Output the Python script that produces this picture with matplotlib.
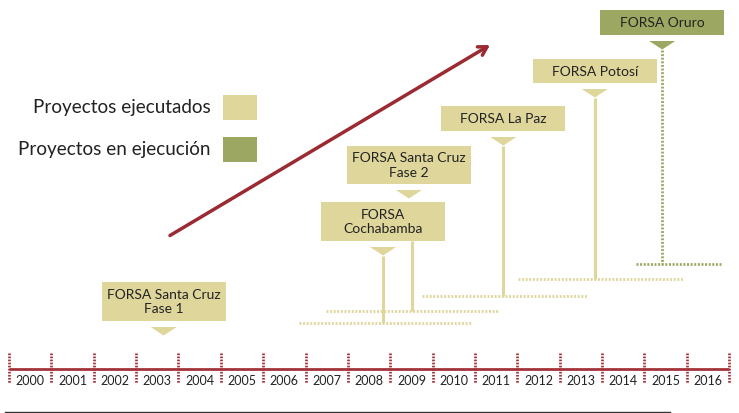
import matplotlib.pyplot as plt
from matplotlib.patches import Rectangle, Polygon

plt.rcParams['font.family'] = ['Lato', 'DejaVu Sans']

# datos
anios = list(range(2000, 2017))
proyectos = ["FORSA Santa Cruz\nFase 1", "FORSA\nCochabamba", "FORSA Santa Cruz\nFase 2",
             "FORSA La Paz", "FORSA Potosí", "FORSA Oruro"]
estado = ["ejecutado", "ejecutado", "ejecutado", "ejecutado", "ejecutado", "en ejecución"]
anio_proy = [2003.65, 2008.83, 2009.44, 2011.67, 2013.83, 2015.42]
leyenda = ["Proyectos ejecutados", "Proyectos en ejecución"]

TAN = "#DFD69C"
GREEN = "#9CA862"
RED = "#A3333A"
TXT = "#222222"
col = {"ejecutado": TAN, "en ejecución": GREEN}

# escala: 1 año = 42.36 px, 2000 empieza en x=9 px
PX = 42.36
def px2yr(p):
    return 2000 + (p - 9) / PX

fig = plt.figure(figsize=(7.39, 4.13), dpi=100)
ax = fig.add_axes([0, 0, 1, 1])
ax.set_xlim(px2yr(0), px2yr(739))
ax.set_ylim(413, 0)
ax.axis("off")

# linea de tiempo
ax.plot([anios[0], anios[-1] + 1], [368.7, 368.7], color=RED, lw=2, solid_capstyle="butt")
for a in anios + [anios[-1] + 1]:
    ax.plot([a, a], [353, 383], color=RED, lw=2, ls=(0, (0.6, 0.5)))
for a in anios:
    ax.text(a + 0.5, 381, str(a), ha="center", va="center", fontsize=9, color=TXT)
ax.plot([px2yr(5), px2yr(670)], [411.7, 411.7], color="#333333", lw=1)

# cajas y tallos (posiciones en px de pantalla)
box_top = [282, 202, 146, 106, 59, 10]
box_h = [39, 39, 38, 25, 24, 25]
stem_dx = [0, 0, 3, 0, 0, 0]
stem_bot = [None, 323, 311, 296, 279, 264]
base_l = [None, 299, 326, 422, 518, 636]
base_r = [None, 472, 498, 587, 683, 722]
w = 124 / PX
tw = 13 / PX

for i, nombre in enumerate(proyectos):
    c = col[estado[i]]
    x = anio_proy[i]
    top = box_top[i]
    bot = top + box_h[i]
    ax.add_patch(Rectangle((x - w / 2, top), w, box_h[i], facecolor=c, edgecolor="none"))
    ax.text(x, top + box_h[i] / 2 + 0.5, nombre, ha="center", va="center",
            fontsize=10, color=TXT, linespacing=1.25)
    ty = bot + 6
    ax.add_patch(Polygon([(x - tw, ty), (x + tw, ty), (x, ty + 8.5)],
                         closed=True, facecolor=c, edgecolor="none"))
    if stem_bot[i] is not None:
        sx = px2yr(9 + (x - 2000) * PX + stem_dx[i])
        s_top = ty + 8.5 if stem_dx[i] == 0 else box_top[1] + box_h[1]
        if estado[i] == "ejecutado":
            ax.plot([sx, sx], [s_top, stem_bot[i]], color=c, lw=2.2, solid_capstyle="butt")
        else:
            ax.plot([sx, sx], [s_top, stem_bot[i]], color=c, lw=2, ls=(0, (0.7, 0.6)))
        ax.plot([px2yr(base_l[i]), px2yr(base_r[i])], [stem_bot[i], stem_bot[i]],
                color=c, lw=2, ls=(0, (0.7, 0.6)))

# flecha
ax.annotate("", xy=(px2yr(490), 45), xytext=(px2yr(170), 235.5),
            arrowprops=dict(arrowstyle="->,head_length=0.6,head_width=0.35",
                            color="#9B2A33", lw=2.5, shrinkA=0, shrinkB=0))

# leyenda
for i, (t, c) in enumerate(zip(leyenda, [TAN, GREEN])):
    yc = 107.5 + i * 42
    ax.text(px2yr(211), yc, t, ha="right", va="center", fontsize=13.6, color=TXT)
    ax.add_patch(Rectangle((px2yr(223), yc - 12.5), 34 / PX, 25, facecolor=c, edgecolor="none"))

fig.savefig("out.png", dpi=100)
